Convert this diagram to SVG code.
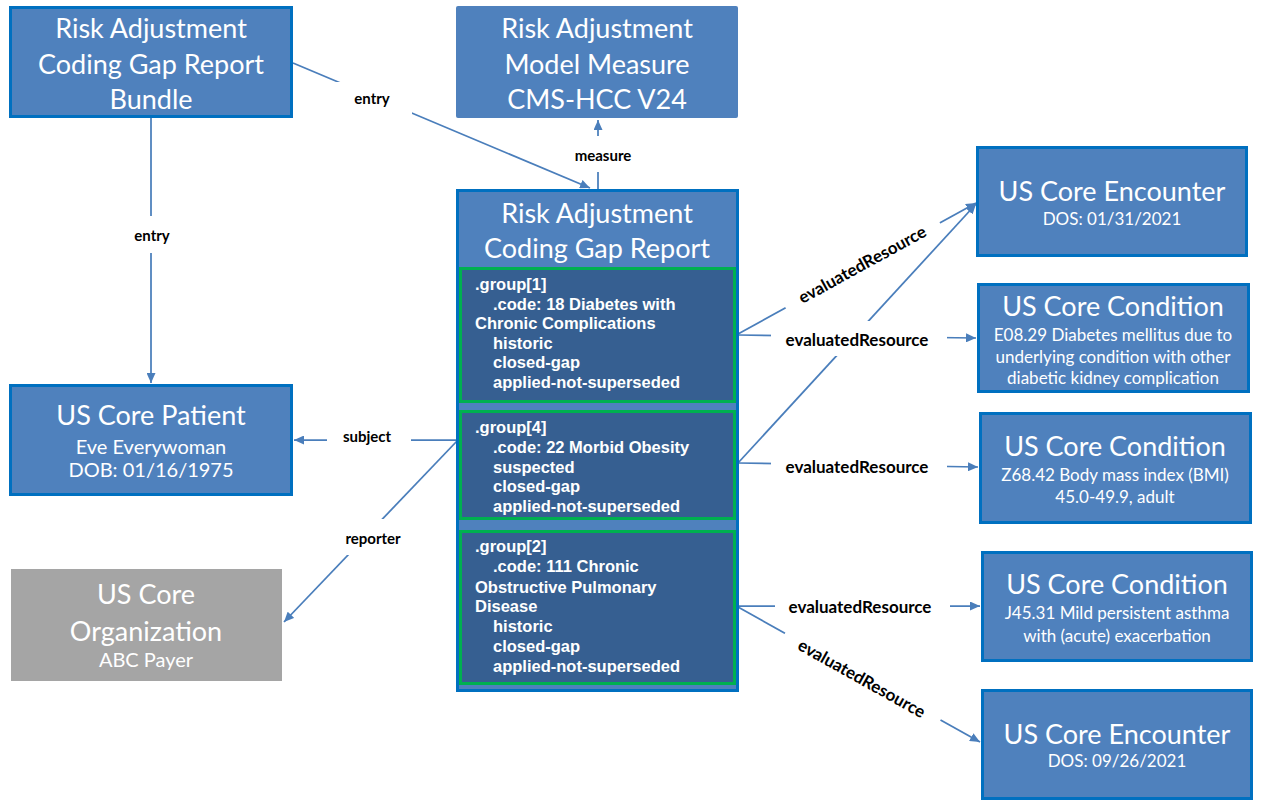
<svg xmlns="http://www.w3.org/2000/svg" width="1261" height="808" viewBox="0 0 1261 808">
<style>
.box{fill:#4F81BD;stroke:#0070C0;stroke-width:3}
.plain{fill:#4F81BD}
.grp{fill:#365F91;stroke:#00B050;stroke-width:3}
.org{fill:#A5A5A5}
.t{font-family:Lato,'Liberation Sans',sans-serif;fill:#fff;text-anchor:middle}
.h{font-size:27px}
.m{font-size:20px}
.s{font-size:17px}
.g{font-family:'Liberation Sans',Arial,sans-serif;font-weight:bold;font-size:16.5px;fill:#fff}
.c{stroke:#4A7EBB;stroke-width:1.75;fill:none;marker-end:url(#a)}
.bg{fill:#fff}
.lb{font-family:Lato,'Liberation Sans',sans-serif;font-weight:bold;font-size:15px;fill:#000;text-anchor:middle;dominant-baseline:central}
.lb2{font-size:17px}
</style>
<defs>
<marker id="a" markerUnits="userSpaceOnUse" markerWidth="11" markerHeight="9" refX="10" refY="4.5" orient="auto">
<path d="M0,0 L10,4.5 L0,9 z" fill="#4A7EBB"/>
</marker>
</defs>
<rect width="1261" height="808" fill="#fff"/>

<g id="connectors">
<path class="c" d="M293,63 L590,188"/>
<path class="c" d="M151,118 L151,383"/>
<path class="c" d="M598,189 L598,120"/>
<path class="c" d="M456,440 L294,440"/>
<path class="c" d="M457,441 L284,622"/>
<path class="c" d="M738,334 L976,203"/>
<path class="c" d="M738,335 L976,338"/>
<path class="c" d="M738,463 L976,204"/>
<path class="c" d="M738,463 L978,467"/>
<path class="c" d="M738,606 L980,606"/>
<path class="c" d="M738,607 L980,742"/>

<rect class="bg" x="336" y="82" width="76" height="32"/>
<text class="lb" x="372" y="98">entry</text>
<rect class="bg" x="122" y="216" width="60" height="37"/>
<text class="lb" x="152" y="235">entry</text>
<rect class="bg" x="565" y="136" width="76" height="36"/>
<text class="lb" x="603" y="155">measure</text>
<rect class="bg" x="327" y="426" width="84" height="26"/>
<text class="lb" x="367" y="436">subject</text>
<rect class="bg" x="340" y="519" width="66" height="36"/>
<text class="lb" x="373" y="538">reporter</text>

<rect class="bg" x="771" y="321" width="176" height="35"/>
<text class="lb lb2" x="857" y="339">evaluatedResource</text>
<rect class="bg" x="771" y="452" width="176" height="28"/>
<text class="lb lb2" x="857" y="466">evaluatedResource</text>
<rect class="bg" x="775" y="592" width="175" height="28"/>
<text class="lb lb2" x="860" y="606">evaluatedResource</text>

<g transform="translate(862,264) rotate(-28.8)">
<rect class="bg" x="-88" y="-14" width="176" height="28"/>
<text class="lb lb2" x="0" y="0">evaluatedResource</text>
</g>
<g transform="translate(862,678) rotate(29.2)">
<rect class="bg" x="-89" y="-14" width="178" height="28"/>
<text class="lb lb2" x="0" y="0">evaluatedResource</text>
</g>
</g>

<g id="bundle">
<rect class="box" x="10.5" y="7.5" width="281" height="109"/>
<text class="t h" x="151" y="38">Risk Adjustment</text>
<text class="t h" x="151" y="74">Coding Gap Report</text>
<text class="t h" x="151" y="109">Bundle</text>
</g>

<g id="measure">
<rect class="plain" x="456" y="6" width="282" height="112" rx="2"/>
<text class="t h" x="597" y="38">Risk Adjustment</text>
<text class="t h" x="597" y="74">Model Measure</text>
<text class="t h" x="597" y="109">CMS-HCC V24</text>
</g>

<g id="report">
<rect class="box" x="457.5" y="190.5" width="280" height="500"/>
<text class="t h" x="597" y="223">Risk Adjustment</text>
<text class="t h" x="597" y="258">Coding Gap Report</text>
</g>

<g id="group1">
<rect class="grp" x="460.5" y="268.5" width="274" height="133"/>
<text class="g" x="475" y="290">.group[1]</text>
<text class="g" x="493" y="310">.code: 18 Diabetes with</text>
<text class="g" x="475" y="329">Chronic Complications</text>
<text class="g" x="493" y="349">historic</text>
<text class="g" x="493" y="368">closed-gap</text>
<text class="g" x="493" y="388">applied-not-superseded</text>
</g>

<g id="group4">
<rect class="grp" x="460.5" y="411.5" width="274" height="107"/>
<text class="g" x="475" y="433">.group[4]</text>
<text class="g" x="493" y="453">.code: 22 Morbid Obesity</text>
<text class="g" x="493" y="473">suspected</text>
<text class="g" x="493" y="492">closed-gap</text>
<text class="g" x="493" y="512">applied-not-superseded</text>
</g>

<g id="group2">
<rect class="grp" x="460.5" y="531.5" width="274" height="152"/>
<text class="g" x="475" y="552">.group[2]</text>
<text class="g" x="493" y="572">.code: 111 Chronic</text>
<text class="g" x="475" y="593">Obstructive Pulmonary</text>
<text class="g" x="475" y="612">Disease</text>
<text class="g" x="493" y="632">historic</text>
<text class="g" x="493" y="652">closed-gap</text>
<text class="g" x="493" y="672">applied-not-superseded</text>
</g>

<g id="patient">
<rect class="box" x="10.5" y="385.5" width="281" height="109"/>
<text class="t h" x="151" y="425">US Core Patient</text>
<text class="t m" x="151" y="454">Eve Everywoman</text>
<text class="t m" x="151" y="477">DOB: 01/16/1975</text>
</g>

<g id="organization">
<rect class="org" x="11" y="569" width="271" height="112"/>
<text class="t h" x="146" y="604">US Core</text>
<text class="t h" x="146" y="641">Organization</text>
<text class="t m" x="146" y="667">ABC Payer</text>
</g>

<g id="encounter1">
<rect class="box" x="977.5" y="147.5" width="269" height="108"/>
<text class="t h" x="1112" y="201">US Core Encounter</text>
<text class="t s" x="1112" y="225">DOS: 01/31/2021</text>
</g>

<g id="condition1">
<rect class="box" x="978.5" y="284.5" width="270" height="107"/>
<text class="t h" x="1113" y="316">US Core Condition</text>
<text class="t s" x="1113" y="341">E08.29 Diabetes mellitus due to</text>
<text class="t s" x="1113" y="363">underlying condition with other</text>
<text class="t s" x="1113" y="384">diabetic kidney complication</text>
</g>

<g id="condition2">
<rect class="box" x="980.5" y="413.5" width="270" height="109"/>
<text class="t h" x="1115" y="456">US Core Condition</text>
<text class="t s" x="1115" y="481">Z68.42 Body mass index (BMI)</text>
<text class="t s" x="1115" y="503">45.0-49.9, adult</text>
</g>

<g id="condition3">
<rect class="box" x="982.5" y="552.5" width="269" height="108"/>
<text class="t h" x="1117" y="594">US Core Condition</text>
<text class="t s" x="1117" y="619">J45.31 Mild persistent asthma</text>
<text class="t s" x="1117" y="642">with (acute) exacerbation</text>
</g>

<g id="encounter2">
<rect class="box" x="982.5" y="690.5" width="269" height="108"/>
<text class="t h" x="1117" y="744">US Core Encounter</text>
<text class="t s" x="1117" y="767">DOS: 09/26/2021</text>
</g>
</svg>
